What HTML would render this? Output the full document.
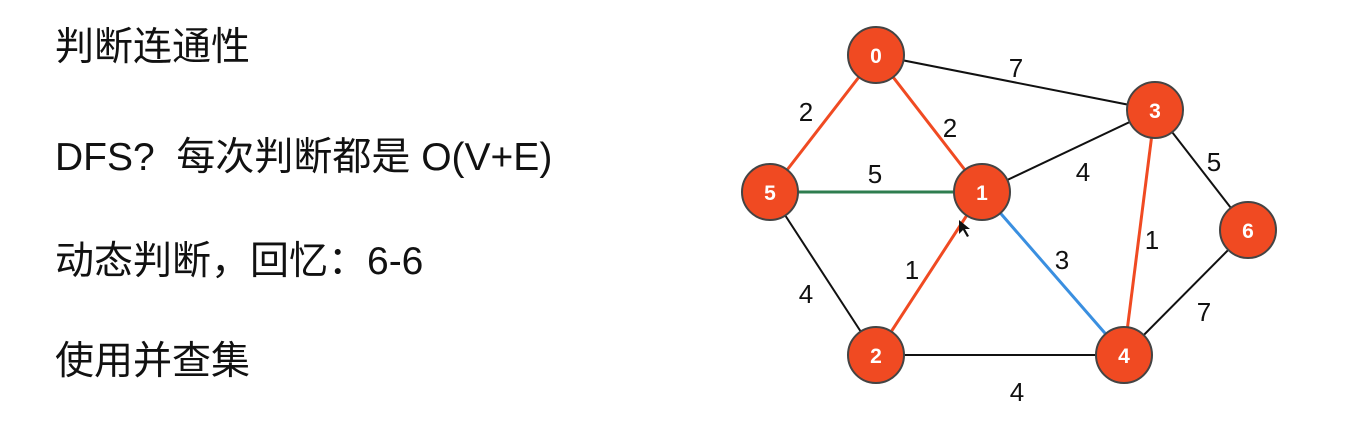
<!DOCTYPE html>
<html><head><meta charset="utf-8"><style>
body{margin:0;width:1352px;height:438px;background:#fff;overflow:hidden;position:relative;font-family:"Liberation Sans","Noto Sans CJK SC",sans-serif}
.t{position:absolute;left:55px;font-size:39px;color:#111;line-height:44px;white-space:pre}
</style></head><body>
<div class="t" style="top:26px">判断连通性</div>
<div class="t" style="top:136px">DFS?  每次判断都是 O(V+E)</div>
<div class="t" style="top:240px">动态判断，回忆：6-6</div>
<div class="t" style="top:340px">使用并查集</div>
<svg width="1352" height="438" style="position:absolute;left:0;top:0" font-family="Liberation Sans, sans-serif">
<g stroke-width="3">
<line x1="876" y1="55" x2="1155" y2="110" stroke="#111" stroke-width="2"/>
<line x1="982" y1="192" x2="1155" y2="110" stroke="#111" stroke-width="2"/>
<line x1="1155" y1="110" x2="1248" y2="230" stroke="#111" stroke-width="2"/>
<line x1="770" y1="192" x2="876" y2="355" stroke="#111" stroke-width="2"/>
<line x1="876" y1="355" x2="1124" y2="355" stroke="#111" stroke-width="2"/>
<line x1="1124" y1="355" x2="1248" y2="230" stroke="#111" stroke-width="2"/>
<line x1="876" y1="55" x2="770" y2="192" stroke="#f04a22"/>
<line x1="876" y1="55" x2="982" y2="192" stroke="#f04a22"/>
<line x1="770" y1="192" x2="982" y2="192" stroke="#2e7d4f"/>
<line x1="982" y1="192" x2="876" y2="355" stroke="#f04a22"/>
<line x1="982" y1="192" x2="1124" y2="355" stroke="#3a8fe0"/>
<line x1="1155" y1="110" x2="1124" y2="355" stroke="#f04a22"/>
</g>
<g font-size="26" fill="#111" text-anchor="middle">
<text x="1016" y="77">7</text>
<text x="806" y="121">2</text>
<text x="950" y="137">2</text>
<text x="875" y="183">5</text>
<text x="1083" y="181">4</text>
<text x="1214" y="171">5</text>
<text x="1152" y="249">1</text>
<text x="1062" y="269">3</text>
<text x="912" y="279">1</text>
<text x="806" y="303">4</text>
<text x="1204" y="321">7</text>
<text x="1017" y="401">4</text>
</g>
<g fill="#f04a22" stroke="#444" stroke-width="2">
<circle cx="876" cy="55" r="28"/><circle cx="770" cy="192" r="28"/><circle cx="982" cy="192" r="28"/>
<circle cx="1155" cy="110" r="28"/><circle cx="1248" cy="230" r="28"/><circle cx="876" cy="355" r="28"/><circle cx="1124" cy="355" r="28"/>
</g>
<g font-size="21" font-weight="bold" fill="#fff" text-anchor="middle">
<text x="876" y="63">0</text><text x="770" y="200">5</text><text x="982" y="200">1</text>
<text x="1155" y="118">3</text><text x="1248" y="238">6</text><text x="876" y="363">2</text><text x="1124" y="363">4</text>
</g>
<path d="M959 220 l0 14 l4 -4 l4 7 l2 -1 l-4 -7 l5 0 z" fill="#111"/>
</svg>
</body></html>
